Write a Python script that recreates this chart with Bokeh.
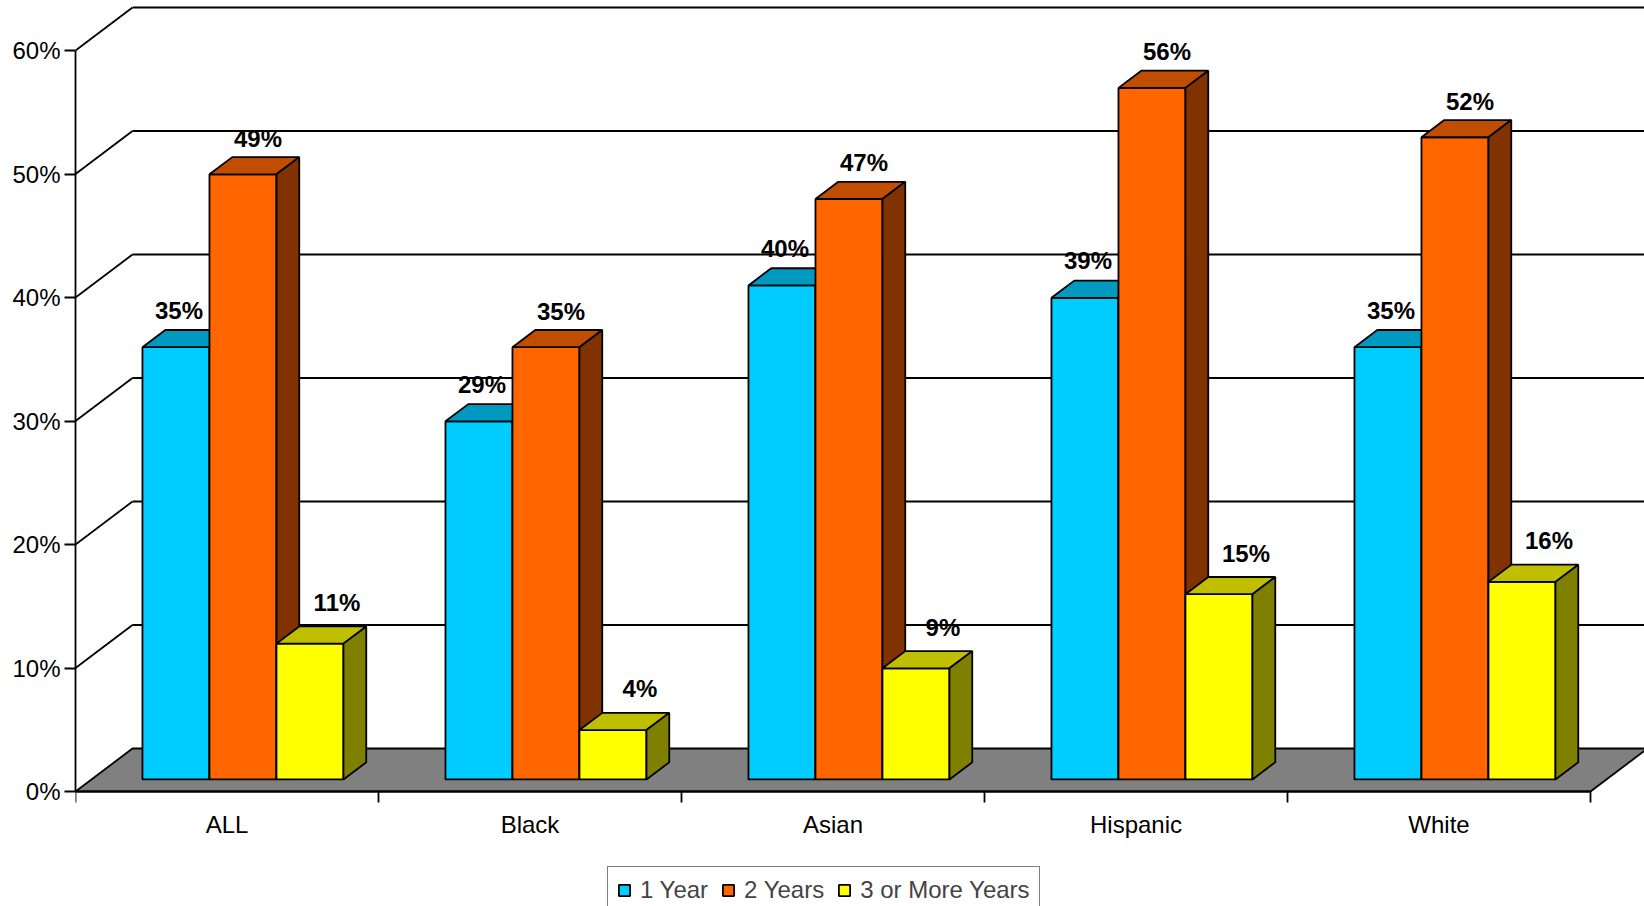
from bokeh.plotting import figure
from bokeh.models import Range1d, FixedTicker, Legend, LegendItem, ColumnDataSource
from bokeh.embed import file_html
from bokeh.resources import INLINE
from bokeh.core.properties import value

# ---------------- data ----------------
categories = ["ALL", "Black", "Asian", "Hispanic", "White"]
series_names = ["1 Year", "2 Years", "3 or More Years"]
one_year = [35, 29, 40, 39, 35]
two_years = [49, 35, 47, 56, 52]
three_plus = [11, 4, 9, 15, 16]
y_ticks = [0, 10, 20, 30, 40, 50, 60]
y_tick_labels = ["0%", "10%", "20%", "30%", "40%", "50%", "60%"]

# ---------------- styles ----------------
front_colors = ["#00CCFF", "#FF6600", "#FFFF00"]
top_colors = ["#0099C0", "#C04D00", "#BFBF00"]
side_colors = ["#007A99", "#803300", "#808000"]
FONT = "Liberation Sans"
LW = 1.8

W, H = 1644, 906
BORDER_L = 75
ZERO_PX = 791                     # pixel row of the 0 % line
FRAME_W = W - BORDER_L
PX_CAT = 303.0                    # px per category
PX_PCT = 741 / 60.0               # px per percent
Y_END = ZERO_PX / PX_PCT
Y_START = -(H - ZERO_PX) / PX_PCT
DX = 57 / PX_CAT                  # depth vector (data units)
DY = 43 / PX_PCT
BAR_FRONT, BAR_BACK = 0.28, 0.68  # bar position inside the depth
GAP = 51 / PX_CAT
BAR_W = 67 / PX_CAT
label_dx_px = [3, 15, 27]
label_gap_px = [20, 19, 24]

series = [one_year, two_years, three_plus]
n_cat = len(categories)

p = figure(width=W, height=H, output_backend="svg", toolbar_location=None,
           x_range=Range1d(0, FRAME_W / PX_CAT), y_range=Range1d(Y_START, Y_END),
           min_border_left=BORDER_L, min_border_bottom=0,
           min_border_top=0, min_border_right=0)
p.outline_line_color = None
p.grid.visible = False
p.background_fill_color = "white"

# floor
p.patch([0, n_cat, n_cat + DX, DX], [0, 0, DY, DY], fill_color="#808080",
        line_color="black", line_width=LW)

# back-wall gridlines + side diagonals
gt = [t for t in y_ticks if t > 0]
p.segment(x0=[0] * len(gt), y0=gt, x1=[DX] * len(gt), y1=[t + DY for t in gt],
          line_color="black", line_width=LW)
p.segment(x0=[DX] * len(gt), y0=[t + DY for t in gt], x1=[n_cat + 1] * len(gt),
          y1=[t + DY for t in gt], line_color="black", line_width=LW)

# bars (painter's order: left to right, front/top/side)
xs, ys, fills = [], [], []
lx, ly, lt = [], [], []
bdx, bdy = (BAR_BACK - BAR_FRONT) * DX, (BAR_BACK - BAR_FRONT) * DY
legend_index = {}
for i in range(n_cat):
    for j, vals in enumerate(series):
        h = vals[i]
        x0 = i + GAP + j * BAR_W + BAR_FRONT * DX
        y0 = BAR_FRONT * DY
        x1 = x0 + BAR_W
        if i == 0:
            legend_index[j] = len(xs)
        xs.append([x0, x1, x1, x0]); ys.append([y0, y0, y0 + h, y0 + h]); fills.append(front_colors[j])
        xs.append([x0, x1, x1 + bdx, x0 + bdx]); ys.append([y0 + h, y0 + h, y0 + h + bdy, y0 + h + bdy]); fills.append(top_colors[j])
        xs.append([x1, x1 + bdx, x1 + bdx, x1]); ys.append([y0, y0 + bdy, y0 + h + bdy, y0 + h]); fills.append(side_colors[j])
        lx.append((x0 + x1) / 2 + label_dx_px[j] / PX_CAT)
        ly.append(y0 + h + bdy + label_gap_px[j] / PX_PCT)
        lt.append(f"{h}%")

src = ColumnDataSource(dict(xs=xs, ys=ys, fill=fills))
bars = p.patches("xs", "ys", source=src, fill_color="fill", line_color="black", line_width=LW)

p.text(x=lx, y=ly, text=lt, text_align="center", text_baseline="alphabetic",
       text_font=value(FONT), text_font_style="bold", text_font_size="24px", text_color="black")

# axes
ya = p.yaxis[0]
ya.ticker = FixedTicker(ticks=y_ticks, minor_ticks=[])
ya.major_label_overrides = {t: l for t, l in zip(y_ticks, y_tick_labels)}
ya.bounds = (0, 60)
ya.major_tick_out = 11
ya.major_tick_in = 0
ya.minor_tick_out = 0
ya.minor_tick_in = 0
ya.major_label_standoff = 4
ya.axis_line_width = LW
ya.major_tick_line_width = LW
ya.major_label_text_font = FONT
ya.major_label_text_font_size = "24px"
ya.major_label_text_color = "black"
ya.axis_line_color = "black"

xa = p.xaxis[0]
centers = [i + 0.5 for i in range(n_cat)]
xa.ticker = FixedTicker(ticks=centers, minor_ticks=list(range(n_cat + 1)))
xa.major_label_overrides = {c: n for c, n in zip(centers, categories)}
xa.bounds = (0, n_cat)
xa.fixed_location = 0
xa.major_tick_out = 0
xa.major_tick_in = 0
xa.minor_tick_out = 11
xa.minor_tick_in = 0
xa.minor_tick_line_color = "black"
xa.minor_tick_line_width = LW
xa.major_label_standoff = 8
xa.axis_line_width = LW
xa.axis_line_color = "black"
xa.major_label_text_font = FONT
xa.major_label_text_font_size = "24px"
xa.major_label_text_color = "black"

# legend
items = [LegendItem(label=series_names[j], renderers=[bars], index=legend_index[j]) for j in range(3)]
legend = Legend(items=items, orientation="horizontal", location=(532, -8),
                padding=9, spacing=13, label_standoff=9, glyph_width=14, glyph_height=14,
                label_text_font=FONT, label_text_font_size="24px", margin=0,
                border_line_color="black", border_line_width=1.8,
                background_fill_color="white", background_fill_alpha=1.0)
p.add_layout(legend)

open("out.html", "w").write(file_html(p, INLINE))
